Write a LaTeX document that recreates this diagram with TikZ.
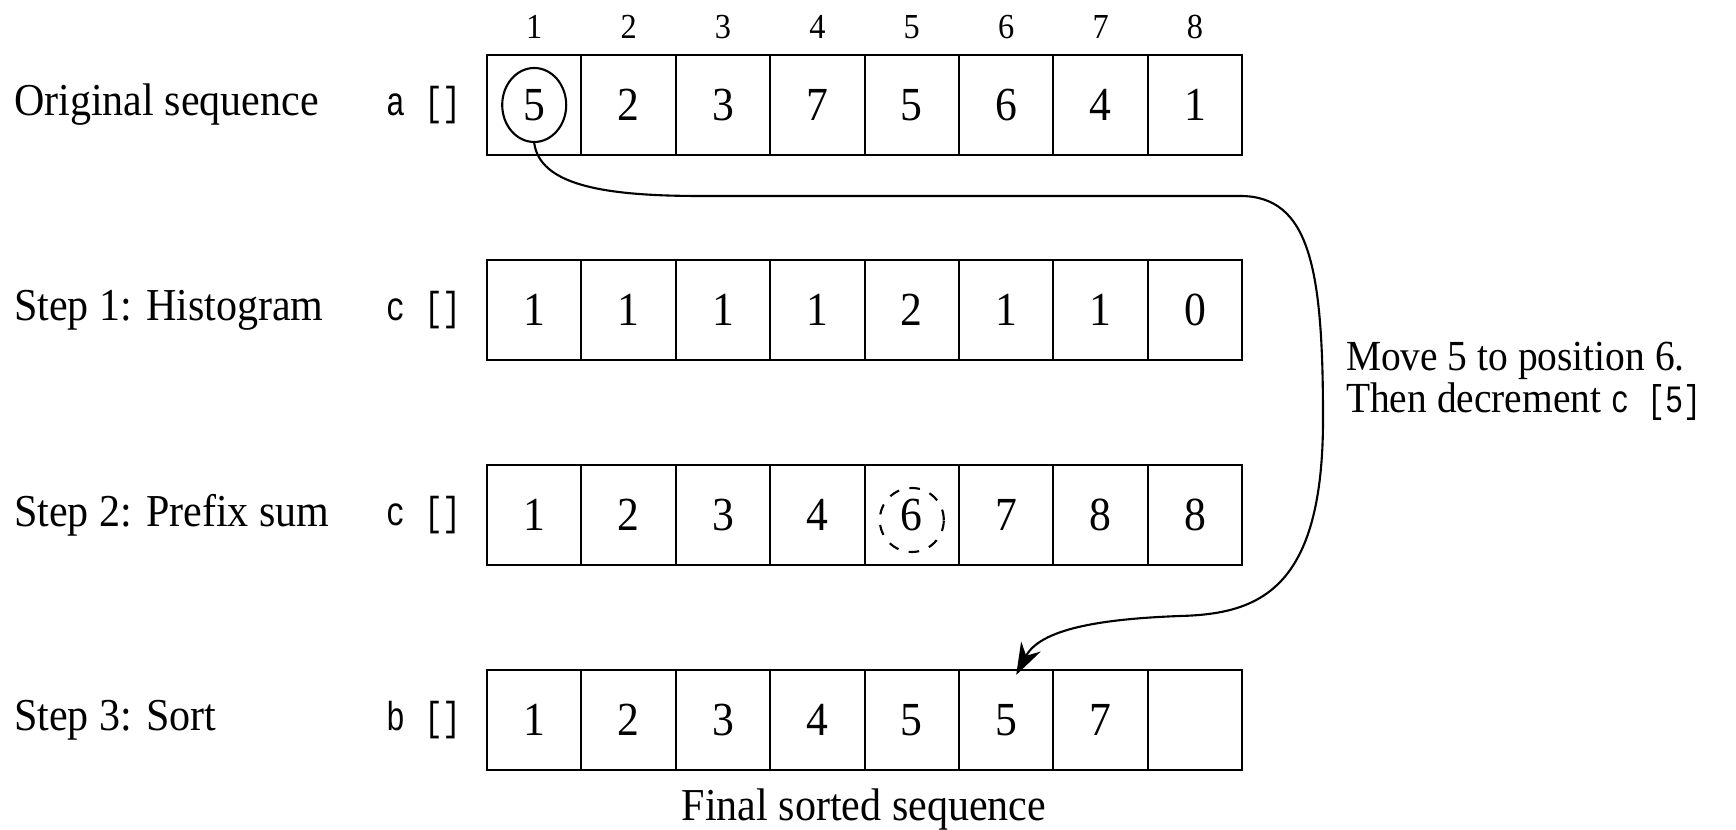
\documentclass[tikz,border=0pt]{standalone}
\usepackage{fontspec}
\setmainfont{Liberation Serif}[FakeStretch=0.92]
\newfontfamily\codefont{Liberation Mono}[FakeStretch=0.78]
\usetikzlibrary{shapes.geometric,arrows.meta}
\begin{document}
\begin{tikzpicture}[
    >={Stealth[length=3.2mm,width=2.2mm]},
    line width=0.6pt,
    every node/.style={font=\fontsize{13}{14}\selectfont},
    cell/.style={draw, minimum width=9.44mm, minimum height=10mm, inner sep=0pt,
                 font=\fontsize{13.5}{14}\selectfont},
    idx/.style={font=\fontsize{10}{11}\selectfont},
    rowname/.style={anchor=west, inner sep=0pt},
    arrname/.style={font=\codefont\fontsize{11.5}{12}\selectfont}
]
  \useasboundingbox (0,0) rectangle (17.36,8.29);

  % indices
  \foreach \i in {1,...,8}
    \node[idx] (n\i) at ({4.398+0.944*\i},8.02) {\i};

  % rows
  \node[rowname] (l1) at (0.13,7.24) {Original sequence};
  \node[rowname] (l2) at (0.13,5.19) {Step 1: Histogram};
  \node[rowname] (l3) at (0.13,3.14) {Step 2: Prefix sum};
  \node[rowname] (l4) at (0.13,1.09) {Step 3: Sort};

  \node[arrname] (v1) at (4.24,7.24) {a []};
  \node[arrname] (v2) at (4.24,5.19) {c []};
  \node[arrname] (v3) at (4.24,3.14) {c []};
  \node[arrname] (v4) at (4.24,1.09) {b []};

  % cells
  \foreach \v [count=\i] in {5,2,3,7,5,6,4,1}
    \node[cell] (a\i) at ({4.398+0.944*\i},7.24) {\v};
  \foreach \v [count=\i] in {1,1,1,1,2,1,1,0}
    \node[cell] (h\i) at ({4.398+0.944*\i},5.19) {\v};
  \foreach \v [count=\i] in {1,2,3,4,6,7,8,8}
    \node[cell] (p\i) at ({4.398+0.944*\i},3.14) {\v};
  \foreach \v [count=\i] in {1,2,3,4,5,5,7,{}}
    \node[cell] (b\i) at ({4.398+0.944*\i},1.09) {\v};

  % marks
  \node[draw, ellipse, minimum width=6.4mm, minimum height=7.4mm, inner sep=0pt] (src) at (a1) {};
  \node[draw, circle, dashed, minimum size=6.4mm, inner sep=0pt] (dst) at ([yshift=-0.5mm]p5.center) {};

  \node[anchor=west, align=left, inner sep=0pt, font=\fontsize{12.2}{13}\selectfont] (note) at (13.45,4.48)
    {Move 5 to position 6.\\[-1pt]Then decrement {\codefont\fontsize{11}{12}\selectfont c [5]}};
  \node (fin) at (8.64,0.19) {Final sorted sequence};

  % move
  \draw[->] (src.south) .. controls (5.4,6.45) and (6.0,6.33) .. (7.0,6.33)
    -- (12.4,6.33) .. controls (13.1,6.33) and (13.23,5.6) .. (13.23,4.1)
    .. controls (13.23,2.4) and (12.6,2.15) .. (11.8,2.13)
    .. controls (11.0,2.1) and (10.4,2.0) .. ([xshift=1mm,yshift=-0.6mm]b6.north);
\end{tikzpicture}
\end{document}
